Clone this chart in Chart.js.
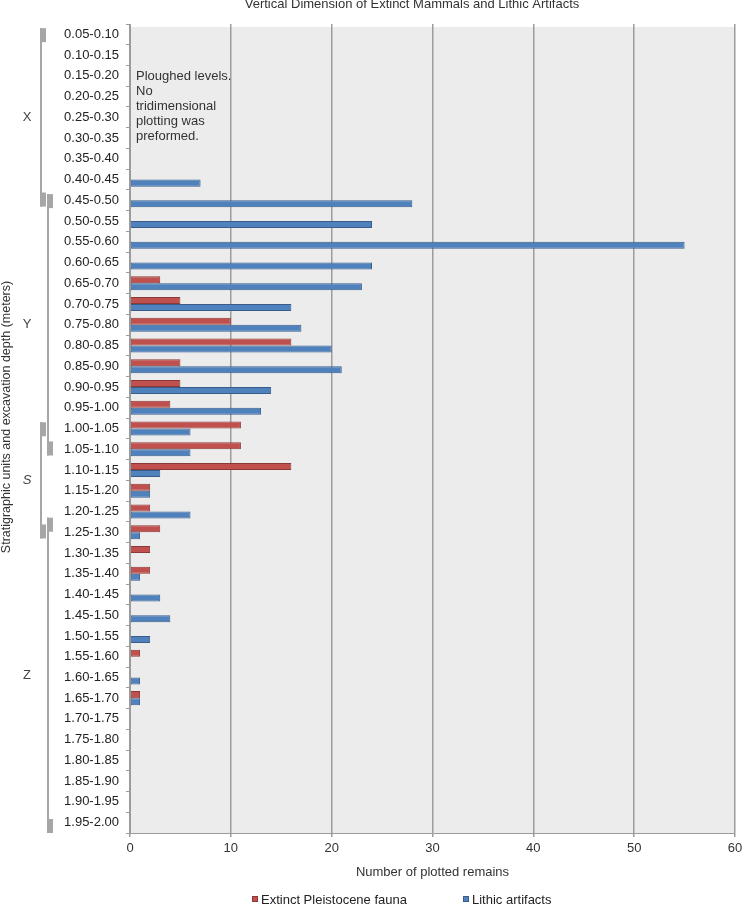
<!DOCTYPE html>
<html>
<head>
<meta charset="utf-8">
<script src="https://cdn.jsdelivr.net/npm/chart.js@4.4.0/dist/chart.umd.min.js"></script>
<style>
  body { margin: 0; background: #fff; }
</style>
</head>
<body>
<canvas id="grafica" width="742" height="905"></canvas>
<script>
// profundidades (m)
const depths = [
  '0.05-0.10','0.10-0.15','0.15-0.20','0.20-0.25','0.25-0.30','0.30-0.35','0.35-0.40','0.40-0.45',
  '0.45-0.50','0.50-0.55','0.55-0.60','0.60-0.65','0.65-0.70','0.70-0.75','0.75-0.80','0.80-0.85',
  '0.85-0.90','0.90-0.95','0.95-1.00','1.00-1.05','1.05-1.10','1.10-1.15','1.15-1.20','1.20-1.25',
  '1.25-1.30','1.30-1.35','1.35-1.40','1.40-1.45','1.45-1.50','1.50-1.55','1.55-1.60','1.60-1.65',
  '1.65-1.70','1.70-1.75','1.75-1.80','1.80-1.85','1.85-1.90','1.90-1.95','1.95-2.00'
];
const fauna = [
  null,null,null,null,null,null,null,null,null,null,null,null,
  3,5,10,16,5,5,4,11,11,16,2,2,3,2,2,
  null,null,null,1,null,1,
  null,null,null,null,null,null
];
const lithics = [
  null,null,null,null,null,null,null,
  7,28,24,55,24,23,16,17,20,21,14,13,6,6,3,2,6,1,null,1,3,4,2,null,1,1,
  null,null,null,null,null,null
];
const xTicks = [0, 10, 20, 30, 40, 50, 60];

// unidades estratigraficas (profundidad en metros)
const unitNames = ['X', 'Y', 'S', 'Z'];
const unitTop = [0.06, 0.46, 1.01, 1.24];
const unitBottom = [0.49, 1.09, 1.29, 2.00];

const titleText = 'Vertical Dimension of Extinct Mammals and Lithic Artifacts';
const yTitle = 'Stratigraphic units and excavation depth (meters)';
const xTitle = 'Number of plotted remains';
const note = ['Ploughed levels.', 'No', 'tridimensional', 'plotting was', 'preformed.'];

const FAMILY = '"Liberation Sans", Arial, sans-serif';
const FONT = '13px ' + FAMILY;

// convierte profundidad a posicion en la escala de categorias
function depthToValue(d) {
  return (d - 0.05) / 0.05 - 0.5;
}

const extras = {
  id: 'extras',
  beforeDraw(chart) {
    const { ctx, chartArea: a } = chart;
    ctx.save();
    ctx.fillStyle = '#ececec';
    ctx.fillRect(a.left, a.top + 3, a.right - a.left, a.bottom - a.top - 3);
    ctx.restore();
  },
  afterDraw(chart) {
    const { ctx, chartArea: a } = chart;
    const y = chart.scales.y;
    ctx.save();
    ctx.font = FONT;
    ctx.fillStyle = '#333';

    // titulo
    ctx.textAlign = 'center';
    ctx.textBaseline = 'middle';
    ctx.fillText(titleText, 412, 4);

    // titulo eje x
    ctx.fillText(xTitle, (a.left + a.right) / 2, 872);

    // titulo eje y
    ctx.save();
    ctx.font = '12.5px ' + FAMILY;
    ctx.translate(7, 417);
    ctx.rotate(-Math.PI / 2);
    ctx.fillText(yTitle, 0, 0);
    ctx.restore();

    // nota
    ctx.textAlign = 'left';
    note.forEach((t, i) => ctx.fillText(t, 136, 76 + i * 15));

    // corchetes de unidades
    unitNames.forEach((name, i) => {
      const top = y.getPixelForValue(depthToValue(unitTop[i]));
      const bot = y.getPixelForValue(depthToValue(unitBottom[i]));
      const x = i % 2 === 0 ? 40 : 47;
      ctx.fillStyle = '#a6a6a6';
      ctx.fillRect(x, top, 2, bot - top);
      ctx.fillRect(x, top, 6, 14);
      ctx.fillRect(x, bot - 14, 6, 14);
      ctx.fillStyle = '#444';
      ctx.textAlign = 'center';
      ctx.font = (name === 'S' ? 'italic ' : '') + FONT;
      ctx.fillText(name, 27, (top + bot) / 2);
    });
    ctx.font = FONT;

    // leyenda
    const legendX = [252, 463];
    chart.data.datasets.forEach((ds, i) => {
      ctx.fillStyle = ds.backgroundColor;
      ctx.fillRect(legendX[i], 896, 6, 6);
      ctx.strokeStyle = ds.borderColor;
      ctx.lineWidth = 1;
      ctx.strokeRect(legendX[i] + 0.5, 896.5, 5, 5);
      ctx.fillStyle = '#222';
      ctx.textAlign = 'left';
      ctx.fillText(ds.label, legendX[i] + 9, 900);
    });
    ctx.restore();
  }
};

const ctx = document.getElementById('grafica').getContext('2d');
let myChart = new Chart(ctx, {
  type: 'bar',
  data: {
    labels: depths,
    datasets: [
      {
        label: 'Extinct Pleistocene fauna',
        data: fauna,
        backgroundColor: '#c0504d',
        borderColor: '#8c3836',
        borderWidth: 1,
        borderSkipped: false
      },
      {
        label: 'Lithic artifacts',
        data: lithics,
        backgroundColor: '#4f81bd',
        borderColor: '#385d8a',
        borderWidth: 1,
        borderSkipped: false
      }
    ]
  },
  options: {
    indexAxis: 'y',
    responsive: false,
    animation: false,
    layout: { padding: { top: 24, right: 7, left: 0, bottom: 0 } },
    datasets: { bar: { categoryPercentage: 0.68, barPercentage: 1 } },
    plugins: {
      legend: { display: false },
      title: { display: false },
      tooltip: { enabled: false }
    },
    scales: {
      x: {
        min: 0,
        max: 60,
        afterFit: s => { s.height = 72; s.paddingRight = 0; s.paddingLeft = 0; },
        afterBuildTicks: s => { s.ticks = xTicks.map(v => ({ value: v })); },
        grid: { color: '#9c9c9c', lineWidth: 1.5, tickLength: 4 },
        border: { color: '#9c9c9c' },
        ticks: { font: { family: FAMILY, size: 13 }, color: '#333', padding: 4 }
      },
      y: {
        afterFit: s => { s.width = 130; },
        grid: { drawOnChartArea: false, offset: true, color: '#9c9c9c', tickLength: 4 },
        border: { color: '#9c9c9c' },
        ticks: { font: { family: FAMILY, size: 13 }, color: '#222', padding: 7, autoSkip: false }
      }
    }
  },
  plugins: [extras]
});
</script>
</body>
</html>
